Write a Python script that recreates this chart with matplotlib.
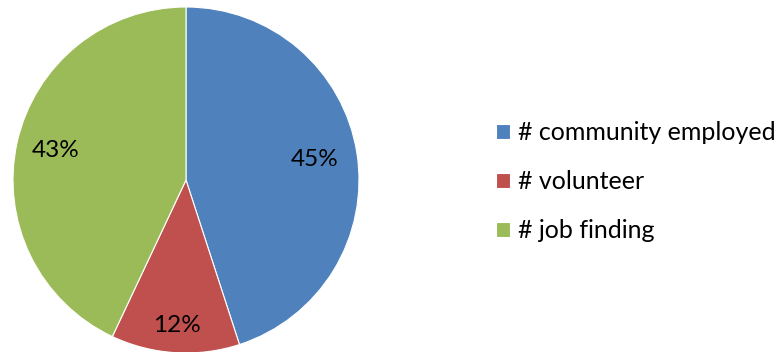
import matplotlib
matplotlib.use('Agg')
import numpy as np
import matplotlib.pyplot as plt

labels = ['# community employed', '# volunteer', '# job finding']
values = [45, 12, 43]
colors = ['#4F81BD', '#C0504D', '#9BBB59']
label_dist = [0.75, 0.84, 0.77]

plt.rcParams['font.family'] = ['Lato', 'DejaVu Sans']

fig = plt.figure(figsize=(7.76, 3.52), dpi=100)
# pie axes: centre (186, 180) px, radius 173 px
ax = fig.add_axes([13 / 776, -1 / 352, 346 / 776, 346 / 352])
wedges, _ = ax.pie(values, colors=colors, startangle=90, counterclock=False,
                   radius=1, wedgeprops=dict(edgecolor='white', linewidth=0.8))
ax.set_xlim(-1, 1)
ax.set_ylim(-1, 1)
ax.set_aspect('auto')
ax.axis('off')

# percentage labels at wedge mid-angles
total = sum(values)
start = 90.0
for v, d in zip(values, label_dist):
    span = 360.0 * v / total
    mid = np.deg2rad(start - span / 2)
    ax.text(d * np.cos(mid), d * np.sin(mid), f'{round(100 * v / total)}%',
            ha='center', va='center', fontsize=17.5, color='black')
    start -= span

fig.legend(wedges, labels, loc='center left', bbox_to_anchor=(496 / 776, 0.484),
           frameon=False, fontsize=18, handlelength=0.58, handleheight=0.58,
           handletextpad=0.3, labelspacing=1.04, borderpad=0, borderaxespad=0)

fig.savefig('out.png', dpi=100)
